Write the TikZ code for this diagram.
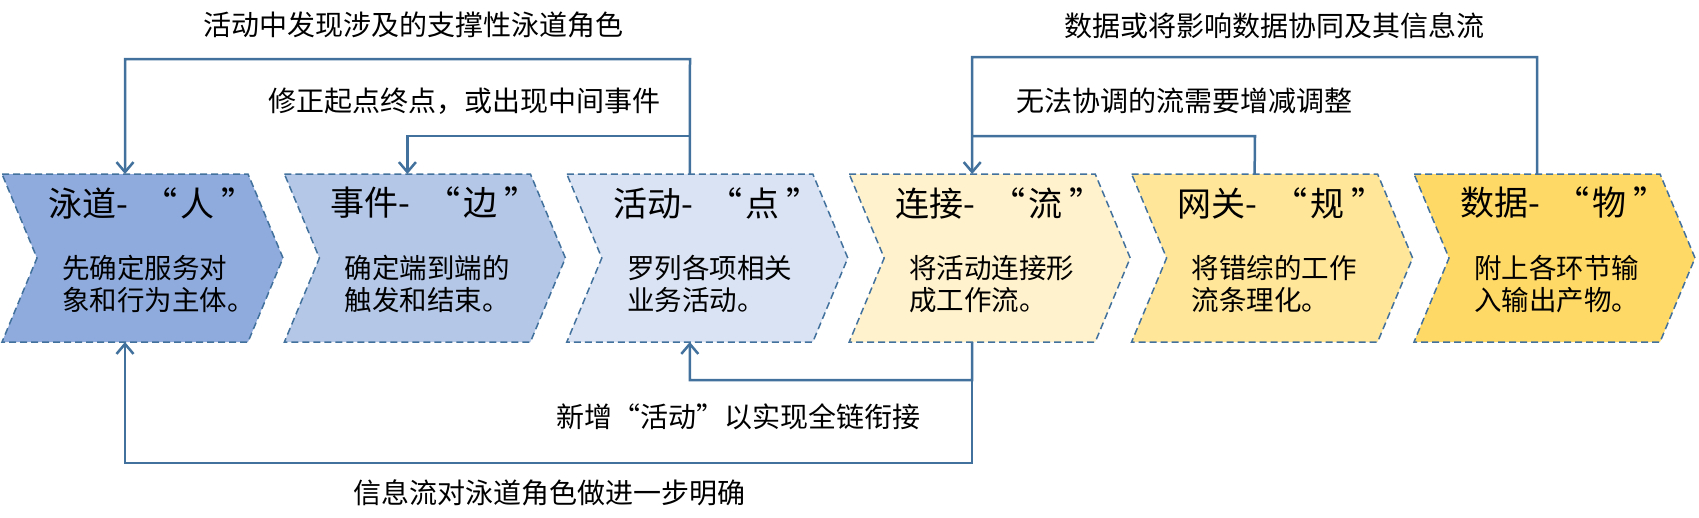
\documentclass[tikz,border=0pt]{standalone}
\usepackage{fontspec}
\setmainfont{Noto Sans CJK SC}
\usetikzlibrary{arrows.meta}
\definecolor{c1}{HTML}{8FAADC}
\definecolor{c2}{HTML}{B4C7E7}
\definecolor{c3}{HTML}{DAE3F3}
\definecolor{c4}{HTML}{FFF2CC}
\definecolor{c5}{HTML}{FFE699}
\definecolor{c6}{HTML}{FFD966}
\definecolor{edge}{HTML}{41719C}
\newcommand{\ttl}[2]{#1-\hspace{16pt}“\hspace{3pt}#2\hspace{7pt}”}
\begin{document}
\begin{tikzpicture}[x=1pt,y=-1pt,
  chev/.style={draw=edge, line width=1.5pt, dash pattern=on 7pt off 4pt},
  titletext/.style={anchor=west, inner sep=0pt, font=\fontsize{34}{40}\selectfont},
  bodytext/.style={anchor=west, inner sep=0pt, align=left, font=\fontsize{27.5}{32}\selectfont},
  labeltext/.style={inner sep=0pt, font=\fontsize{28}{32}\selectfont},
  conn/.style={draw=edge, line width=2.5pt, miter limit=10},
  arr/.style={-{Straight Barb[length=10pt,width=17pt]}}]
\fill[white] (0,0) rectangle (1699,517);
\useasboundingbox (0,0) rectangle (1699,517);
\foreach \i/\col/\ta/\tb/\bd in {
  1/c1/泳道/人/{先确定服务对\\象和行为主体。},
  2/c2/事件/边/{确定端到端的\\触发和结束。},
  3/c3/活动/点/{罗列各项相关\\业务活动。},
  4/c4/连接/流/{将活动连接形\\成工作流。},
  5/c5/网关/规/{将错综的工作\\流条理化。},
  6/c6/数据/物/{附上各环节输\\入输出产物。}}
{
  \pgfmathsetmacro\xo{2+282.4*(\i-1)}
  \path[chev, fill=\col] (\xo,174) -- ++(246,0) -- ++(35,84) -- ++(-35,84) -- ++(-246,0) -- ++(35,-84) -- cycle;
  \coordinate (c\i t) at (\xo+123,174);
  \coordinate (c\i b) at (\xo+123,342);
  \node[titletext] (t\i) at (\xo+46,203) {\ttl{\ta}{\tb}};
  \node[bodytext] (b\i) at (\xo+60,284) {\bd};
}
% connector corner points
\coordinate (k1) at (690,59);
\coordinate (k2) at (690,136);
\coordinate (k3) at (972,380);
\coordinate (k4) at (972,463);
\coordinate (k5) at (1537,57);
\coordinate (k6) at (1255,136);
\coordinate (k7) at (972,136);
\draw[conn,arr] (c3t) -- (k1) -| (c1t);
\draw[conn,arr] (k2) -| (c2t);
\draw[conn,arr] (c4b) -- (k3) -| (c3b);
\draw[conn,arr] (k3) -- (k4) -| (c1b);
\draw[conn,arr] (c6t) -- (k5) -| (c4t);
\draw[conn] (c5t) -- (k6) -- (k7);
% labels
\node[labeltext] (l1) at (413,25) {活动中发现涉及的支撑性泳道角色};
\node[labeltext] (l2) at (464,101) {修正起点终点，或出现中间事件};
\node[labeltext] (l3) at (738,417) {新增“活动”以实现全链衔接};
\node[labeltext] (l4) at (549,493) {信息流对泳道角色做进一步明确};
\node[labeltext] (l5) at (1274,26) {数据或将影响数据协同及其信息流};
\node[labeltext] (l6) at (1184,101) {无法协调的流需要增减调整};
\end{tikzpicture}
\end{document}
